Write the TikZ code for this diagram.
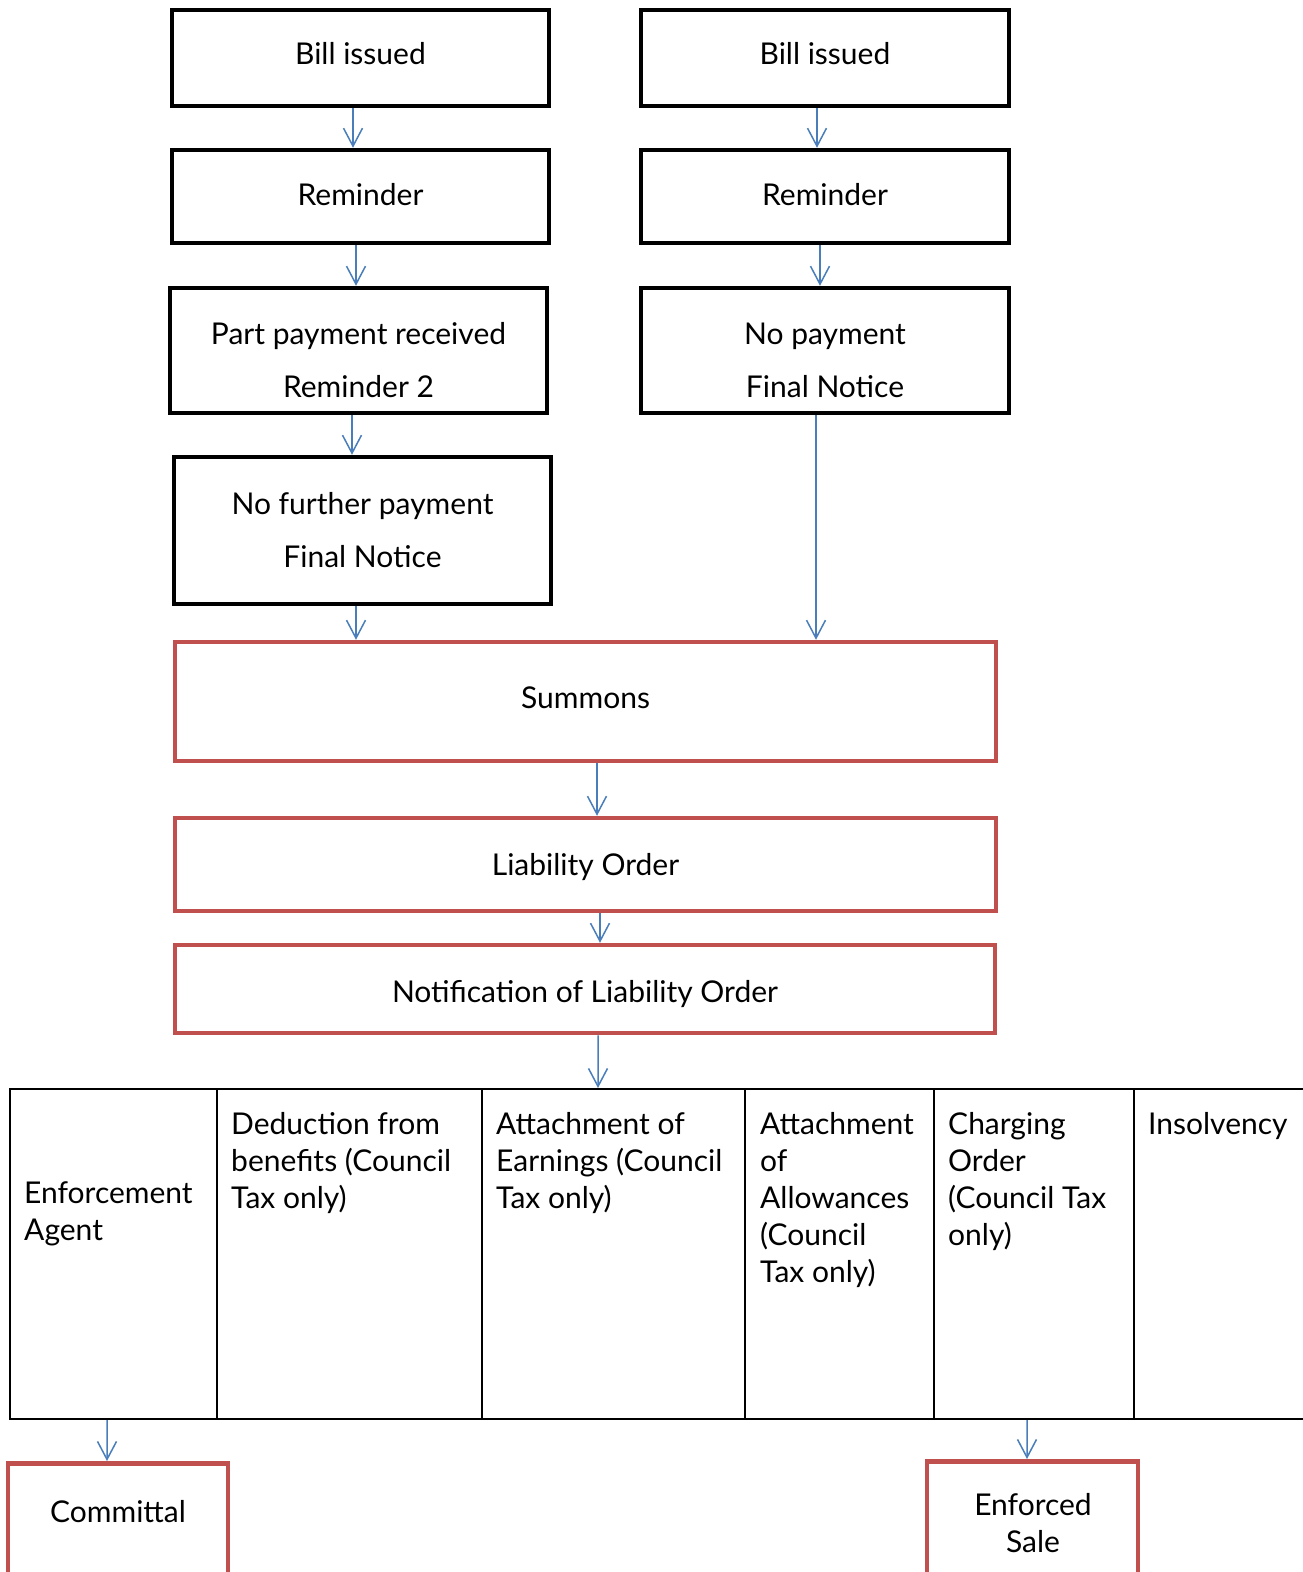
\documentclass[tikz,border=0pt]{standalone}
\usepackage{fontspec}
\setmainfont{Lato}
\usetikzlibrary{arrows.meta}
\definecolor{redb}{HTML}{C0504D}
\definecolor{bluea}{HTML}{4A7EBB}
\begin{document}
\begin{tikzpicture}[x=1pt,y=-1pt,
  every node/.style={font=\fontsize{30}{37}\selectfont, inner sep=0pt},
  blackbox/.style={draw=black, line width=4.5pt, align=center},
  redbox/.style={draw=redb, line width=4.5pt, align=center},
  bl/.style={text height=#1, text depth=0pt},
  arr/.style={draw=bluea, line width=1.5pt, -{Straight Barb[length=18pt,width=19pt,line width=1.5pt]}},
  cell/.style={draw=black, line width=2.2pt, anchor=north west},
  celltext/.style={anchor=north west, align=left}]
\fill[white] (0,0) rectangle (1302,1572);
\path[use as bounding box] (0,0) rectangle (1302,1572);
% left column
\node[blackbox, bl=12pt, minimum width=377pt, minimum height=96pt] (bL) at (360.5,58) {Bill issued};
\node[blackbox, bl=17pt, minimum width=377pt, minimum height=93pt] (rL) at (360.5,196.5) {Reminder};
\node[blackbox, minimum width=377pt, minimum height=125pt] (pL) at (358.5,350.5) {};
\node[align=center] (pLt) at (358.5,360) {Part payment received\\[16pt]Reminder 2};
\node[blackbox, minimum width=377pt, minimum height=147pt] (nL) at (362.5,530.5) {No further payment\\[16pt]Final Notice};
% right column
\node[blackbox, bl=12pt, minimum width=368pt, minimum height=96pt] (bR) at (825,58) {Bill issued};
\node[blackbox, bl=17pt, minimum width=368pt, minimum height=93pt] (rR) at (825,196.5) {Reminder};
\node[blackbox, minimum width=368pt, minimum height=125pt] (nR) at (825,350.5) {};
\node[align=center] (nRt) at (825,360) {No payment\\[16pt]Final Notice};
% red boxes
\node[redbox, bl=14pt, minimum width=821pt, minimum height=119pt] (sum) at (585.5,701.5) {Summons};
\node[redbox, bl=21pt, minimum width=821pt, minimum height=93pt] (lia) at (585.5,864.5) {Liability Order};
\node[redbox, bl=26pt, minimum width=820pt, minimum height=88pt] (not) at (585,989) {Notification of Liability Order};
% table
\node[cell, minimum width=207pt, minimum height=330pt] (c1) at (9,1088) {};
\node[cell, minimum width=265pt, minimum height=330pt] (c2) at (216,1088) {};
\node[cell, minimum width=263pt, minimum height=330pt] (c3) at (481,1088) {};
\node[cell, minimum width=189pt, minimum height=330pt] (c4) at (744,1088) {};
\node[cell, minimum width=200pt, minimum height=330pt] (c5) at (933,1088) {};
\node[cell, minimum width=190pt, minimum height=330pt] (c6) at (1133,1088) {};
\node[celltext] (t1) at (24,1181) {Enforcement\\Agent};
\node[celltext] (t2) at (231,1112) {Deduction from\\benefits (Council\\Tax only)};
\node[celltext] (t3) at (496,1112) {Attachment of\\Earnings (Council\\Tax only)};
\node[celltext] (t4) at (760,1112) {Attachment\\of\\Allowances\\(Council\\Tax only)};
\node[celltext] (t5) at (948,1112) {Charging\\Order\\(Council Tax\\only)};
\node[celltext] (t6) at (1148,1112) {Insolvency};
% bottom boxes
\node[redbox, anchor=north, minimum width=220pt, text height=59pt, text depth=80pt] (com) at (118,1461) {Committal};
\node[redbox, anchor=north, minimum width=211pt, minimum height=140pt] (enf) at (1032.5,1459) {};
\node[align=center] (enft) at (1033,1523) {Enforced\\Sale};
% arrows
\draw[arr] ([xshift=-7.5pt]bL.south) -- ([xshift=-7.5pt]rL.north);
\draw[arr] ([xshift=-4.5pt]rL.south) -- ([xshift=-2.5pt]pL.north);
\draw[arr] ([xshift=-6.5pt]pL.south) -- ([xshift=-10.5pt]nL.north);
\draw[arr] ([xshift=-6.5pt]nL.south) -- ([xshift=-229.5pt]sum.north);
\draw[arr] ([xshift=-8pt]bR.south) -- ([xshift=-8pt]rR.north);
\draw[arr] ([xshift=-5pt]rR.south) -- ([xshift=-5pt]nR.north);
\draw[arr] ([xshift=-9pt]nR.south) -- ([xshift=230.5pt]sum.north);
\draw[arr] ([xshift=11.5pt]sum.south) -- ([xshift=11.5pt]lia.north);
\draw[arr] ([xshift=14.5pt]lia.south) -- ([xshift=15pt]not.north);
\draw[arr] ([xshift=13pt]not.south) -- ([xshift=-15.6pt]c3.north);
\draw[arr] ([xshift=-6.6pt]c1.south) -- ([xshift=-11pt]com.north);
\draw[arr] ([xshift=-7.1pt]c5.south) -- ([xshift=-5.5pt]enf.north);
\end{tikzpicture}
\end{document}
